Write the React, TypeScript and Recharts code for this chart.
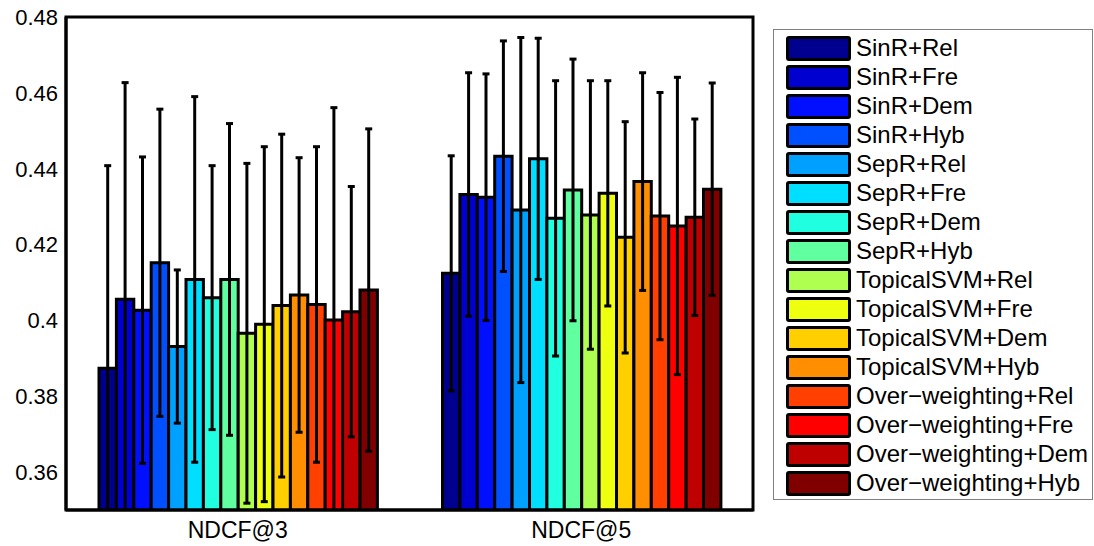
import { BarChart, Bar, ErrorBar, XAxis, YAxis, Legend, ReferenceArea } from "recharts";

// categories and series
const groups = ["NDCF@3", "NDCF@5"];
const methods = [
  "SinR+Rel", "SinR+Fre", "SinR+Dem", "SinR+Hyb",
  "SepR+Rel", "SepR+Fre", "SepR+Dem", "SepR+Hyb",
  "TopicalSVM+Rel", "TopicalSVM+Fre", "TopicalSVM+Dem", "TopicalSVM+Hyb",
  "Over\u2212weighting+Rel", "Over\u2212weighting+Fre", "Over\u2212weighting+Dem", "Over\u2212weighting+Hyb",
];
// jet colormap sampled for 16 series
const colors = [
  "#00008F", "#0000CF", "#0010FF", "#0050FF", "#00A0FF", "#00DFFF", "#20FFDF", "#60FF9F",
  "#AFFF50", "#EFFF10", "#FFCF00", "#FF8F00", "#FF4000", "#FF0000", "#BF0000", "#800000",
];

const ndcf3Mean = [0.3874, 0.4056, 0.4027, 0.4152, 0.3931, 0.4108, 0.4060, 0.4108, 0.3966, 0.3990, 0.4039, 0.4067, 0.4042, 0.4001, 0.4023, 0.4080];
const ndcf3Err  = [0.0534, 0.0571, 0.0404, 0.0405, 0.0202, 0.0482, 0.0348, 0.0411, 0.0448, 0.0468, 0.0452, 0.0362, 0.0416, 0.0560, 0.0330, 0.0425];
const ndcf5Mean = [0.4124, 0.4332, 0.4325, 0.4433, 0.4291, 0.4426, 0.4269, 0.4344, 0.4278, 0.4335, 0.4219, 0.4366, 0.4275, 0.4249, 0.4272, 0.4346];
const ndcf5Err  = [0.0310, 0.0321, 0.0325, 0.0304, 0.0455, 0.0318, 0.0363, 0.0345, 0.0354, 0.0297, 0.0305, 0.0287, 0.0326, 0.0392, 0.0259, 0.0280];

const yTicks = [0.36, 0.38, 0.4, 0.42, 0.44, 0.46, 0.48];

const means = [ndcf3Mean, ndcf5Mean];
const errs = [ndcf3Err, ndcf5Err];

const data = groups.map((g, gi) => {
  const row: Record<string, string | number> = { group: g };
  methods.forEach((_, i) => {
    row[`v${i}`] = means[gi][i];
    row[`e${i}`] = errs[gi][i];
  });
  return row;
});

const FONT = '"Liberation Sans", Arial, sans-serif';
const DOMAIN: [number, number] = [0.35, 0.48];

// layout
const W = 1094, H = 546;
const M = { top: 17, right: 341, bottom: 0, left: 0 };
const Y_W = 66, X_H = 36;
const PLOT = { x: M.left + Y_W, y: M.top, w: W - M.left - Y_W - M.right, h: H - M.top - X_H };

function LegendBox() {
  return (
    <div style={{
      position: "absolute", left: 0, top: 0, width: 320, height: 471,
      border: "1px solid #808080", background: "#fff", boxSizing: "border-box",
      fontFamily: FONT,
    }}>
      {methods.map((m, i) => (
        <div key={m} style={{ position: "absolute", left: 0, top: 3 + i * 29, height: 29, width: 320 }}>
          <div style={{
            position: "absolute", left: 12, top: 3, width: 65, height: 25,
            background: colors[i], border: "3px solid #000", borderRadius: 3, boxSizing: "border-box",
          }} />
          <span style={{
            position: "absolute", left: 82, top: 0, fontSize: 24, lineHeight: "29px",
            color: "#000", whiteSpace: "nowrap",
          }}>{m}</span>
        </div>
      ))}
    </div>
  );
}

export default function App() {
  return (
    <div style={{ position: "absolute", left: 0, top: 0, width: W, height: H, background: "#fff" }}>
      <BarChart
        width={W}
        height={H}
        data={data}
        margin={M}
        barGap={0}
        barSize={17.4}
      >
        <defs>
          <clipPath id="plot-clip">
            <rect x={PLOT.x} y={PLOT.y} width={PLOT.w} height={PLOT.h} />
          </clipPath>
        </defs>
        <XAxis
          dataKey="group"
          height={X_H}
          axisLine={{ stroke: "#000", strokeWidth: 3 }}
          tickLine={false}
          tickSize={0}
          tickMargin={12}
          tick={{ fill: "#000", fontSize: 23, fontFamily: FONT }}
        />
        <YAxis
          domain={DOMAIN}
          allowDataOverflow
          ticks={yTicks}
          width={Y_W}
          axisLine={{ stroke: "#000", strokeWidth: 3 }}
          tickLine={false}
          tickSize={0}
          tickMargin={8}
          tick={{ fill: "#000", fontSize: 22, fontFamily: FONT }}
          tickFormatter={(v: number) => String(+v.toFixed(2))}
        />
        <Legend
          verticalAlign="top"
          wrapperStyle={{ left: 773, top: 29, width: 0, height: 0, overflow: "visible" }}
          content={() => <LegendBox />}
        />
        {methods.map((m, i) => (
          <Bar
            key={m}
            dataKey={`v${i}`}
            name={m}
            fill={colors[i]}
            stroke="#000"
            strokeWidth={3}
            isAnimationActive={false}
          >
            <ErrorBar
              dataKey={`e${i}`}
              width={3.5}
              stroke="#000"
              strokeWidth={3}
              clipPath="url(#plot-clip)"
              isAnimationActive={false}
            />
          </Bar>
        ))}
        {/* box around the axes */}
        <ReferenceArea
          x1={groups[0]}
          x2={groups[groups.length - 1]}
          y1={DOMAIN[0]}
          y2={DOMAIN[1]}
          fill="none"
          fillOpacity={0}
          stroke="#000"
          strokeWidth={3}
          ifOverflow="visible"
        />
      </BarChart>
    </div>
  );
}
